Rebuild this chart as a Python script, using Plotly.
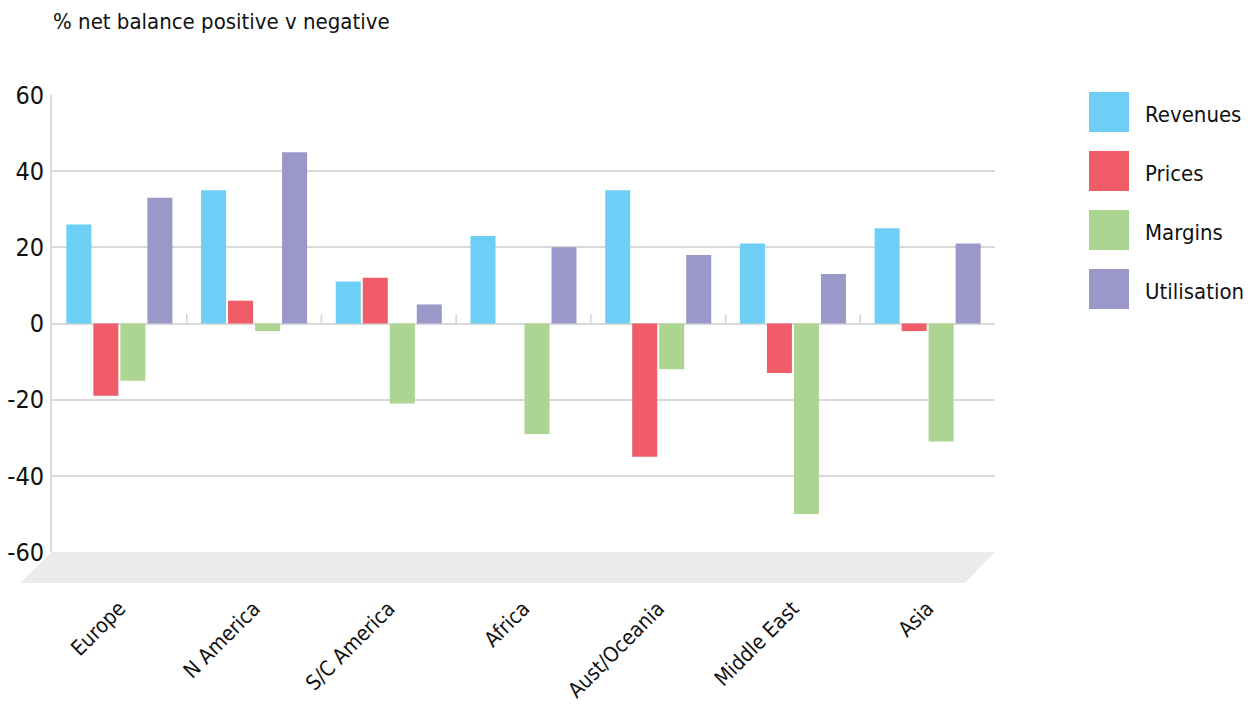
import plotly.graph_objects as go

categories = ["Europe", "N America", "S/C America", "Africa", "Aust/Oceania", "Middle East", "Asia"]
revenues = [26, 35, 11, 23, 35, 21, 25]
prices = [-19, 6, 12, 0, -35, -13, -2]
margins = [-15, -2, -21, -29, -12, -50, -31]
utilisation = [33, 45, 5, 20, 18, 13, 21]
series_names = ["Revenues", "Prices", "Margins", "Utilisation"]
series_colors = ["#6dcff6", "#f05d68", "#abd591", "#9a98c9"]
y_ticks = [-60, -40, -20, 0, 20, 40, 60]
title_text = "% net balance positive v negative"

FONT = "DejaVu Sans Condensed, Roboto, sans-serif"

W, H = 1252, 704
L, R, T, B = 52, 995, 95, 552  # plot area in px


def px_x(x):
    return (x - L) / (R - L)


def px_y(y):
    return (B - y) / (B - T)


fig = go.Figure()
for name, vals, col in zip(series_names, [revenues, prices, margins, utilisation], series_colors):
    fig.add_trace(go.Bar(x=categories, y=vals, name=name, marker=dict(color=col, line=dict(width=0)),
                         showlegend=False))

shapes = []
# floor
shapes.append(dict(type="path", xref="paper", yref="paper",
                   path=f"M {px_x(52)},{px_y(552)} L {px_x(995)},{px_y(552)} L {px_x(965)},{px_y(583)} L {px_x(20)},{px_y(583)} Z",
                   fillcolor="#ebebed", line=dict(width=0), layer="below"))
# small separator ticks on zero line
for i in range(len(categories) - 1):
    shapes.append(dict(type="line", xref="x", yref="y", x0=i + 0.5, x1=i + 0.5, y0=0, y1=2.4,
                       line=dict(color="#d4d4d4", width=1.5), layer="below"))

annotations = []
annotations.append(dict(text=title_text, xref="paper", yref="paper", x=px_x(51), y=px_y(22),
                        xanchor="left", yanchor="middle", showarrow=False,
                        font=dict(family=FONT, size=22, color="#111111")))
# custom legend
for k, (name, col) in enumerate(zip(series_names, series_colors)):
    top = 92 + 59 * k
    shapes.append(dict(type="rect", xref="paper", yref="paper",
                       x0=px_x(1089), x1=px_x(1129), y0=px_y(top), y1=px_y(top + 40),
                       fillcolor=col, line=dict(width=0)))
    annotations.append(dict(text=name, xref="paper", yref="paper", x=px_x(1143), y=px_y(top + 22),
                            xanchor="left", yanchor="middle", showarrow=False,
                            font=dict(family=FONT, size=22, color="#111111")))

fig.update_layout(
    width=W, height=H,
    margin=dict(l=L, r=W - R, t=T, b=H - B, autoexpand=False),
    paper_bgcolor="white", plot_bgcolor="white",
    barmode="group", bargap=0.198, bargroupgap=0.074,
    shapes=shapes, annotations=annotations,
    font=dict(family=FONT, color="#111111"),
)
fig.update_xaxes(type="category", tickangle=-45, ticks="outside", ticklen=35, tickcolor="rgba(0,0,0,0)",
                 tickfont=dict(family=FONT, size=21, color="#111111"), showgrid=False, zeroline=False,
                 showline=False, automargin=False)
fig.update_yaxes(range=[-60, 60], tickvals=y_ticks, ticktext=[str(v) for v in y_ticks],
                 ticks="outside", ticklen=1, tickcolor="rgba(0,0,0,0)",
                 tickfont=dict(family=FONT, size=25, color="#111111"),
                 showgrid=True, gridcolor="#d9d9d9", gridwidth=1.5,
                 zeroline=True, zerolinecolor="#d9d9d9", zerolinewidth=1.5,
                 showline=True, linecolor="#d9d9d9", linewidth=2, automargin=False)

fig.write_html("out.html", config={"displayModeBar": False},
               post_script="document.body.style.margin='0';")
